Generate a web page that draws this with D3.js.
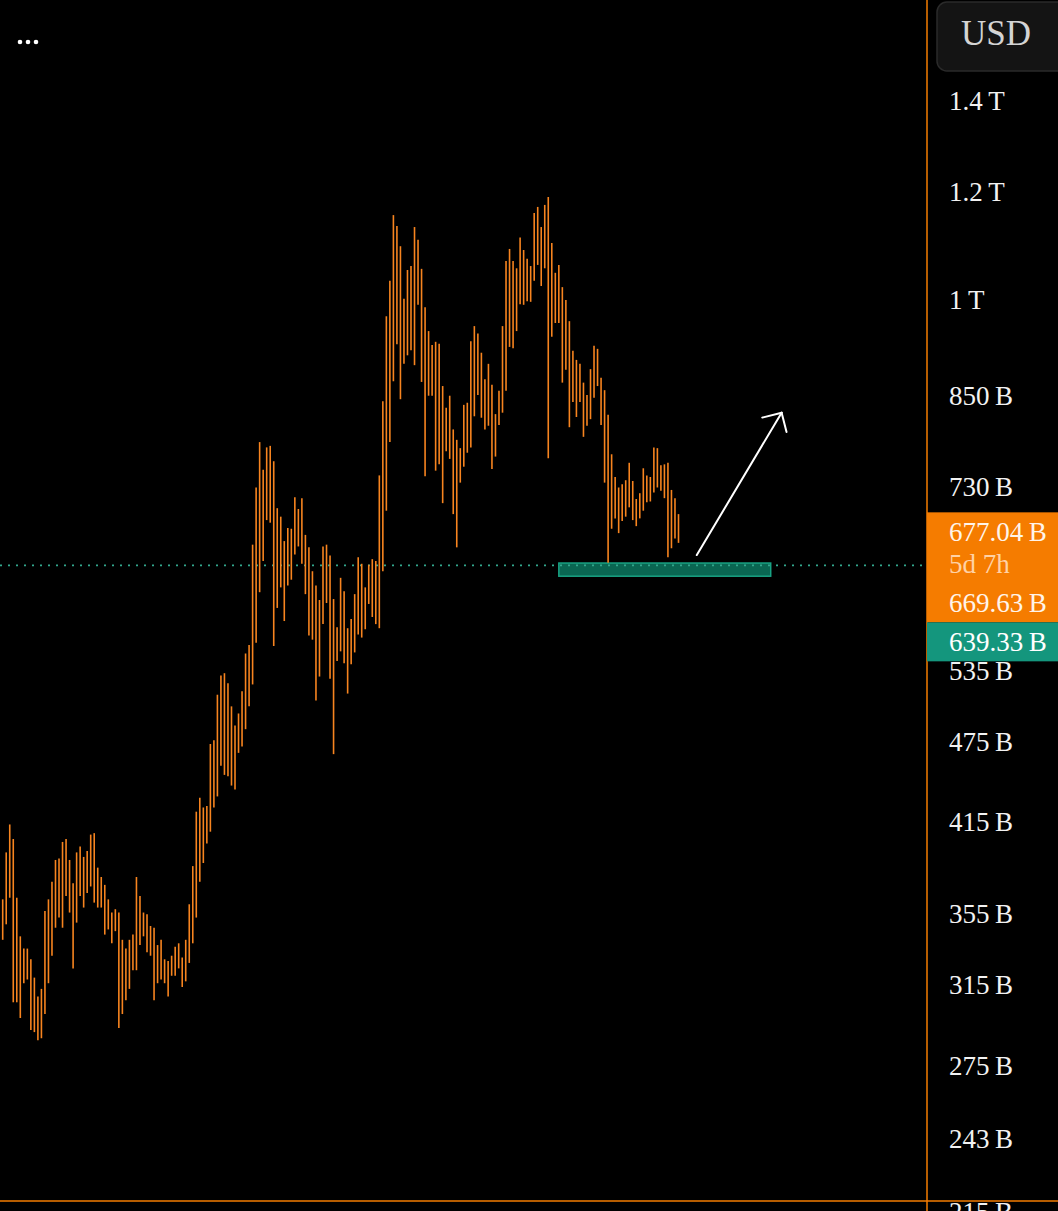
<!DOCTYPE html>
<html>
<head>
<meta charset="utf-8">
<script src="https://cdn.jsdelivr.net/npm/d3@7"></script>
<style>
  html, body { margin: 0; padding: 0; background: #000; overflow: hidden; }
</style>
</head>
<body>
<div id="chart"></div>
<script>
// bar highs / lows, in billions USD (log scale chart)
const highs = [
  364,394,413,403,365,342,335,335,329,319,
  309,313,357,364,375,389,390,401,403,389,
  374,394,398,391,395,406,407,384,378,373,
  364,356,358,356,340,335,340,343,378,366,
  356,355,348,347,337,340,329,328,331,336,
  338,330,340,361,385,422,432,425,426,473,
  476,514,531,533,524,504,488,498,517,551,
  559,662,729,787,751,780,782,762,704,694,
  666,681,680,717,703,716,673,659,633,618,
  603,660,662,650,604,576,626,612,575,584,
  609,648,641,616,640,646,644,744,843,973,
  1033,1154,1133,1095,1002,1052,1059,1131,1107,1054,
  988,949,927,932,929,865,834,851,804,790,
  779,838,841,933,957,945,915,875,898,867,
  825,858,957,1068,1090,1068,1055,1111,1088,1072,
  1059,1158,1170,1131,1174,1190,1101,1047,1061,1022,
  1000,965,918,904,898,870,852,890,926,921,
  877,859,824,771,742,729,733,738,760,737,
  715,722,753,744,742,780,779,757,758,760,
  726,716,697
];
const lows = [
  340,349,365,306,306,298,316,318,292,291,
  287,288,300,316,331,347,353,347,366,356,
  324,350,366,359,368,372,362,359,359,343,
  346,338,345,293,300,307,313,323,323,337,
  342,333,331,307,316,318,316,309,320,320,
  324,314,317,327,338,353,375,387,400,408,
  425,433,456,449,448,441,438,466,471,485,
  504,523,561,611,644,690,687,558,595,616,
  582,618,624,651,660,641,609,568,564,509,
  530,579,600,528,465,544,553,542,515,541,
  552,569,566,574,599,586,579,575,633,701,
  787,872,928,846,898,911,919,896,992,871,
  743,851,851,750,758,710,775,765,697,659,
  735,755,773,780,822,852,820,804,809,752,
  768,810,827,858,924,922,949,993,992,998,
  997,1033,1061,1024,1055,766,940,962,962,870,
  889,807,842,821,842,794,809,818,848,865,
  810,735,642,680,692,675,689,694,705,690,
  683,692,701,711,712,723,729,725,716,648,
  658,669,664
];

const yTicks = [1400, 1200, 1000, 850, 730, 535, 475, 415, 355, 315, 275, 243, 215];
const lastPrice = 677.04;
const countdown = '5d 7h';
const prevPrice = 669.63;
const linePrice = 639.33;
// drawn annotations: support zone and arrow (bar index, value)
const zoneIdx = [158, 218.2];
const zoneVals = [627.7, 641.8];
const arrowIdx = [197.2, 221.3];
const arrowVals = [650.5, 827];

const W = 1058, H = 1211;
const axisX = 927, baseY = 1201;
const ORANGE = '#F57C00';
const BAR = '#F7841F';
const FONT = '"Liberation Serif", "DejaVu Serif", serif';

const svg = d3.select('#chart').append('svg')
  .attr('width', W).attr('height', H)
  .style('background', '#000');

const x = d3.scaleLinear().domain([0, highs.length - 1]).range([2.7, 678.5]);
const y = d3.scaleLog().domain([243, 1400]).range([1139, 100.5]);

svg.append('defs').append('clipPath').attr('id', 'plot')
  .append('rect').attr('x', 0).attr('y', 0).attr('width', axisX).attr('height', baseY);

const plot = svg.append('g').attr('clip-path', 'url(#plot)');

// zone rectangle
plot.append('rect')
  .attr('x', x(zoneIdx[0])).attr('y', y(zoneVals[1]))
  .attr('width', x(zoneIdx[1]) - x(zoneIdx[0]))
  .attr('height', y(zoneVals[0]) - y(zoneVals[1]))
  .attr('fill', '#0A6652').attr('stroke', '#18A283').attr('stroke-width', 1.5);

// price line, dotted
plot.append('line')
  .attr('x1', 0).attr('x2', axisX)
  .attr('y1', y(linePrice)).attr('y2', y(linePrice))
  .attr('stroke', '#33A88E').attr('stroke-width', 1.8)
  .attr('stroke-dasharray', '2,6');

// HL bars
plot.append('g').selectAll('line')
  .data(d3.range(highs.length))
  .join('line')
  .attr('x1', i => x(i)).attr('x2', i => x(i))
  .attr('y1', i => y(highs[i])).attr('y2', i => y(lows[i]))
  .attr('stroke', BAR).attr('stroke-width', 1.6);

// arrow
const ax0 = x(arrowIdx[0]), ay0 = y(arrowVals[0]);
const ax1 = x(arrowIdx[1]), ay1 = y(arrowVals[1]);
const ang = Math.atan2(ay0 - ay1, ax0 - ax1);
const wing = 20;
const arrow = plot.append('g').attr('stroke', '#fff').attr('stroke-width', 2)
  .attr('fill', 'none').attr('stroke-linecap', 'round');
arrow.append('line').attr('x1', ax0).attr('y1', ay0).attr('x2', ax1).attr('y2', ay1);
[-1, 1].forEach(s => {
  const a = ang + s * Math.PI / 4;
  arrow.append('line').attr('x1', ax1).attr('y1', ay1)
    .attr('x2', ax1 + wing * Math.cos(a)).attr('y2', ay1 + wing * Math.sin(a));
});

// axis lines
svg.append('line').attr('x1', axisX).attr('x2', axisX).attr('y1', 0).attr('y2', H)
  .attr('stroke', ORANGE).attr('stroke-width', 1.5);
svg.append('line').attr('x1', 0).attr('x2', W).attr('y1', baseY).attr('y2', baseY)
  .attr('stroke', ORANGE).attr('stroke-width', 1.5);

// tick labels
const fmt = v => v >= 1000 ? `${v / 1000}\u2009T` : `${v}\u2009B`;
svg.append('g').selectAll('text')
  .data(yTicks)
  .join('text')
  .attr('x', 949).attr('y', d => y(d) + 9)
  .attr('fill', '#F2F2F2').attr('font-size', '27px').attr('font-family', FONT)
  .text(d => fmt(d));

// last price box
const boxTop = y(lastPrice) - 19;
svg.append('rect').attr('x', axisX).attr('y', boxTop).attr('width', W - axisX).attr('height', 110)
  .attr('fill', ORANGE);
svg.append('text').attr('x', 949).attr('y', boxTop + 29)
  .attr('fill', '#FFF4EA').attr('font-size', '27px').attr('font-family', FONT)
  .text(`${lastPrice.toFixed(2)}\u2009B`);
svg.append('text').attr('x', 949).attr('y', boxTop + 61)
  .attr('fill', '#FFD2A6').attr('font-size', '27px').attr('font-family', FONT)
  .text(countdown);
svg.append('text').attr('x', 949).attr('y', boxTop + 100)
  .attr('fill', '#FFF4EA').attr('font-size', '27px').attr('font-family', FONT)
  .text(`${prevPrice.toFixed(2)}\u2009B`);

// line price box
svg.append('rect').attr('x', axisX).attr('y', boxTop + 110).attr('width', W - axisX).attr('height', 39)
  .attr('fill', '#14967D');
svg.append('text').attr('x', 949).attr('y', boxTop + 139)
  .attr('fill', '#FFFFFF').attr('font-size', '27px').attr('font-family', FONT)
  .text(`${linePrice.toFixed(2)}\u2009B`);

// currency button
svg.append('rect').attr('x', 937).attr('y', 2).attr('width', 130).attr('height', 69)
  .attr('rx', 10).attr('fill', '#141414').attr('stroke', '#2A2A2A').attr('stroke-width', 1.5);
svg.append('text').attr('x', 996).attr('y', 45).attr('text-anchor', 'middle')
  .attr('fill', '#D4D4D4').attr('font-size', '35px').attr('font-family', FONT)
  .text('USD');

// menu dots
svg.append('g').selectAll('circle').data([0, 1, 2]).join('circle')
  .attr('cx', d => 20 + d * 8).attr('cy', 42).attr('r', 2.3).attr('fill', '#fff');
</script>
</body>
</html>
